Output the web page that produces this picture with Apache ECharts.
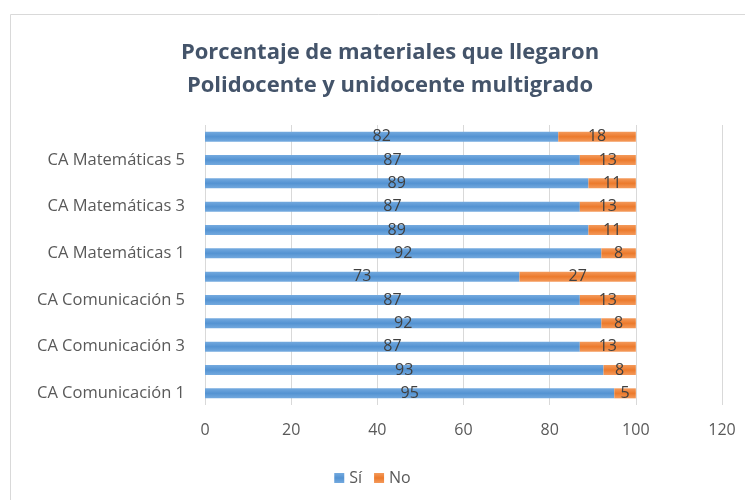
<!DOCTYPE html>
<html>
<head>
<meta charset="utf-8">
<script src="https://cdn.jsdelivr.net/npm/echarts@6/dist/echarts.min.js"></script>
<style>
  html, body { margin: 0; padding: 0; background: #fff; }
  #main { width: 745px; height: 500px; }
</style>
</head>
<body>
<div id="main"></div>
<script>
// categorias (de abajo hacia arriba)
const categorias = [
  'CA Comunicación 1', 'CA Comunicación 2', 'CA Comunicación 3',
  'CA Comunicación 4', 'CA Comunicación 5', 'CA Comunicación 6',
  'CA Matemáticas 1', 'CA Matemáticas 2', 'CA Matemáticas 3',
  'CA Matemáticas 4', 'CA Matemáticas 5', 'CA Matemáticas 6'
]
// porcentaje que si llego (Com 2 se muestra redondeado: 93 / 8)
const valoresSi = [95, 92.5, 87, 92, 87, 73, 92, 89, 87, 89, 87, 82]
// porcentaje que no llego
const valoresNo = [5, 7.5, 13, 8, 13, 27, 8, 11, 13, 11, 13, 18]

const fuente = 'Open Sans'

function degradado (claro, oscuro) {
  return new echarts.graphic.LinearGradient(0, 0, 0, 1, [
    { offset: 0, color: claro },
    { offset: 0.5, color: oscuro },
    { offset: 1, color: claro }
  ])
}

const etiqueta = {
  show: true,
  position: 'inside',
  fontSize: 16,
  color: '#404040',
  formatter: p => Math.round(p.value)
}

const chart = echarts.init(document.getElementById('main'))
const option = {
  animation: false,
  color: ['#5B9BD5', '#ED7D31'],
  textStyle: { fontFamily: fuente },
  title: {
    text: 'Porcentaje de materiales que llegaron\nPolidocente y unidocente multigrado',
    left: 385,
    top: 31,
    textAlign: 'center',
    textStyle: {
      fontFamily: fuente,
      fontSize: 22,
      fontWeight: 'bold',
      color: '#44546A',
      lineHeight: 33
    }
  },
  legend: {
    bottom: 9,
    left: 'center',
    itemWidth: 10,
    itemHeight: 10,
    itemGap: 12,
    icon: 'rect',
    textStyle: { fontSize: 16, color: '#595959', fontFamily: fuente },
    data: ['Sí', 'No']
  },
  grid: {
    left: 205,
    right: 23,
    top: 125,
    bottom: 95
  },
  xAxis: {
    type: 'value',
    min: 0,
    max: 120,
    interval: 20,
    axisLine: { show: false },
    axisTick: { show: false },
    splitLine: { lineStyle: { color: '#D9D9D9' } },
    axisLabel: { fontSize: 16, color: '#595959', margin: 17 }
  },
  yAxis: {
    type: 'category',
    data: categorias,
    axisLine: { show: false },
    axisTick: { show: false },
    axisLabel: { interval: 1, fontSize: 16.5, color: '#595959', margin: 20 }
  },
  series: [
    {
      name: 'Sí',
      type: 'bar',
      stack: 'total',
      barWidth: '43%',
      data: valoresSi,
      itemStyle: { color: degradado('#74AADF', '#5493D2') },
      label: etiqueta
    },
    {
      name: 'No',
      type: 'bar',
      stack: 'total',
      data: valoresNo,
      itemStyle: { color: degradado('#F49A5B', '#EC7A2C') },
      label: etiqueta
    }
  ],
  graphic: [
    {
      type: 'rect',
      shape: { x: 10.5, y: 14.5, width: 745, height: 500 },
      style: { fill: 'none', stroke: '#D9D9D9', lineWidth: 1 },
      silent: true
    }
  ]
}
chart.setOption(option)
</script>
</body>
</html>
